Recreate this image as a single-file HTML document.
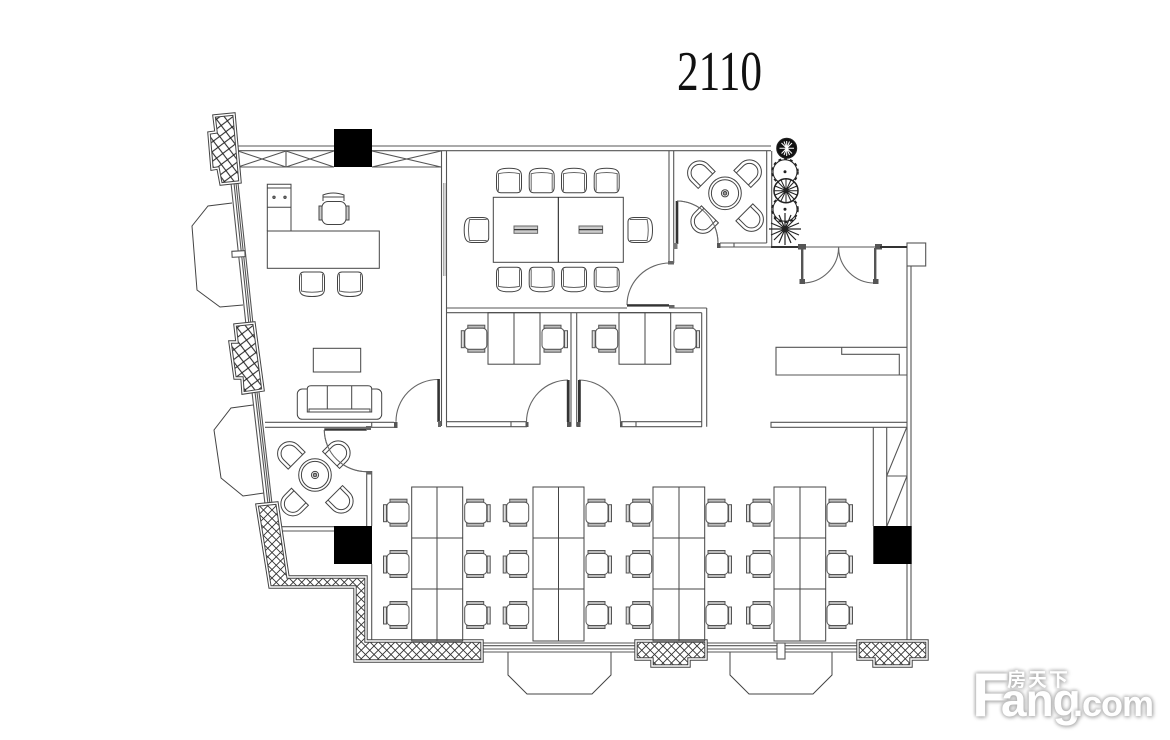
<!DOCTYPE html>
<html>
<head>
<meta charset="utf-8">
<style>
html,body{margin:0;padding:0;background:#fff;width:1170px;height:740px;overflow:hidden}
#c{position:relative;width:1170px;height:740px}
svg{position:absolute;left:0;top:0;filter:blur(0.35px)}
.wm{position:absolute;color:#fff;font-family:"Liberation Sans","Noto Sans CJK SC",sans-serif;font-weight:bold;text-shadow:1px 1px 4px #aaa,0 0 4px #bbb,-1px -1px 3px #ccc;white-space:nowrap;line-height:1}
</style>
</head>
<body>
<div id="c">
<svg width="1170" height="740" viewBox="0 0 1170 740" xmlns="http://www.w3.org/2000/svg">
<defs>
<pattern id="h" width="11" height="11" patternUnits="userSpaceOnUse" patternTransform="rotate(8)">
<path d="M0 0L11 11M11 0L0 11" stroke="#222" stroke-width="1"/>
</pattern>
<pattern id="h2" width="8.5" height="8.5" patternUnits="userSpaceOnUse">
<path d="M0 0L8.5 8.5M8.5 0L0 8.5" stroke="#333" stroke-width="0.9"/>
</pattern>
<g id="sc" fill="#fff" stroke="#555" stroke-width="1">
<rect x="-8" y="-13.5" width="17" height="3" fill="#bbb"/>
<rect x="-8" y="10.5" width="17" height="3" fill="#bbb"/>
<rect x="-14.5" y="-8" width="3" height="17" fill="#ddd"/>
<rect x="-11" y="-10.5" width="22" height="21" rx="4"/>
</g>
<g id="ac" fill="#fff" stroke="#444" stroke-width="1">
<path d="M-12.5-5C-12.5-11-8-12.5 0-12.5C8-12.5 12.5-11 12.5-5L12.5 6Q12.5 12 8 12L-8 12Q-12.5 12-12.5 6Z"/>
<path d="M-11-7Q0-9.5 11-7M-10.5-7V10M10.5-7V10" fill="none" stroke="#666"/>
</g>
<g id="qc" fill="#fff" stroke="#444" stroke-width="1">
<path d="M-12 7V-3A12 12 0 0 1 12-3V7Z"/>
<path d="M-8.5 7V-3A8.5 8.5 0 0 1 8.5-3V7" fill="none"/>
</g>
<g id="rt" fill="none" stroke="#444" stroke-width="1">
<circle r="16.3"/><circle r="13.6"/><circle r="3.6"/><circle r="1.8" fill="#999"/>
</g>
<polygon id="p1" points="214,116 234,114 240,182 221,184 218,168 212,169 209,133 216,132"/>
<polygon id="p2" points="235,325 254,323 263,390 243,393 242,378 235,378 230,342 237,342"/>
<polygon id="p3" points="257,505 277,503 288,577 366,577 366,641 482,641 482,661 355,661 355,587 270,587"/>
<polygon id="p4" points="636,641 706,641 706,659 689,659 689,666 652,666 652,659 636,659"/>
<polygon id="p5" points="858,641 927,641 927,659 911,659 911,666 874,666 874,659 858,659"/>
</defs>

<!-- title -->
<text x="677" y="90" font-family="'Liberation Serif',serif" font-size="56" fill="#111" textLength="85" lengthAdjust="spacingAndGlyphs">2110</text>

<!-- bay windows -->
<g fill="none" stroke="#444" stroke-width="1">
<path d="M232 203L208 206L192 226L197 290L220 307L243 305"/>
<path d="M253 405L231 408L214 430L221 478L243 496L264 493"/>
<path d="M508 652V675L527 694H592L611 675V652"/>
<path d="M730 652V675L749 694H813L832 675V652"/>
</g>

<!-- walls and lines -->
<g fill="none" stroke="#555" stroke-width="1.1">
<path d="M236 146H771M238 150.7H771"/>
<!-- truss -->
<path d="M238 167H334M372 167H441M286 151V167"/>
<path d="M238 151L286 167M238 167L286 151M286 151L334 167M286 167L334 151M372 151L441 167M372 167L441 151"/>
<!-- office/meeting wall -->
<path d="M441.5 151V426M446.5 151V426"/>
<path d="M443.5 183V276M445 183V276" stroke="#888" stroke-width="0.7"/>
<!-- slanted wall -->
<path d="M231 183L246 325M234 183L249 325M236 183L251 325M238 183L253 324"/>
<path d="M252 392L265 504M255 392L268 504M257 392L270 504M259 392L272 504"/>
<rect x="232" y="251" width="13" height="6" fill="#fff" transform="rotate(-3 238 254)"/>
<!-- patio -->
<path d="M669 151V263M673.7 151V263M766.7 151V243M771.7 151V247"/>
<path d="M720 243H766.7M720 247H798M734 243V247"/>
<!-- meeting bottom wall -->
<path d="M446 308H627M669 308H706.7M446 312.7H701.7M701.7 312.7V426.7M706.7 308V426.7"/>
<path d="M571 312.7V426.7M576.7 312.7V426.7"/>
<path d="M446 421.7H527M446 426.7H527M511 421.7V426.7M620 421.7H702M620 426.7H702M636 421.7V426.7"/>
<!-- left rooms wall -->
<path d="M265 422.3H394M265 427.3H394M371.7 422.3V427.3M366.7 471V526M371.7 471V526M371.7 564V643"/>
<path d="M282 526.7H334M282 531H334"/>
<!-- entry / right wall -->
<path d="M802 247H875"/>
<rect x="907" y="243" width="18.7" height="23"/>
<path d="M907 266V641M911 266V526M911 564V641"/>
<!-- reception -->
<path d="M906.7 347.3H776V375H906.7M841.7 347.3V354.3H899.3V375"/>
<path d="M906.7 422.3H771V427.3H906.7"/>
<path d="M873.3 427V526M886.7 427V526M886.7 476H906.7M906.7 427.3L886.7 476M906.7 476.7L886.7 526.7"/>
<!-- bottom wall -->
<path d="M482 643H636M482 645.7H636M482 649H636M482 652H636M706 643H858M706 645.7H858M706 649H858M706 652H858"/>
<rect x="777" y="643" width="8" height="16" fill="#fff"/>
<!-- door arcs -->
<path stroke="#666" d="M677 201A41 42 0 0 1 718 243M670 263A43 42 0 0 0 627 305M396 421.7A42 42 0 0 1 438 379.5M324.3 430A42.4 42 0 0 0 366.7 471.7M526.5 421.7A42 42 0 0 1 568 380M579 380A42 42 0 0 1 620.5 423M802 283A36 36 0 0 0 838.6 247M875 283A36 36 0 0 1 838.6 247"/>
</g>

<!-- door leaves -->
<g fill="#333" stroke="none">
<rect x="675.7" y="201" width="2.6" height="43"/><rect x="673.5" y="243" width="4" height="6" fill="#777"/>
<rect x="668" y="261" width="6" height="3.5" fill="#666"/>
<rect x="627" y="304.2" width="42" height="2.4"/><rect x="669" y="305" width="5.5" height="3.4" fill="#666"/>
<rect x="437.3" y="379" width="2.6" height="43"/><rect x="438" y="421" width="3" height="6" fill="#666"/>
<rect x="324.3" y="428.3" width="42.4" height="2.4"/><rect x="366" y="426" width="5" height="4" fill="#666"/>
<rect x="394" y="422" width="3.5" height="6" fill="#555"/>
<rect x="366.5" y="471" width="5.2" height="3.5" fill="#666"/>
<rect x="566.8" y="380" width="2.8" height="42"/><rect x="567" y="422" width="3.5" height="5" fill="#555"/>
<rect x="578" y="380" width="2.8" height="42"/><rect x="577" y="422" width="3.5" height="5" fill="#555"/>
<rect x="525.5" y="422" width="3" height="5" fill="#555"/><rect x="620" y="422" width="2.5" height="5" fill="#555"/>
<rect x="717" y="243" width="3.5" height="5" fill="#555"/>
<rect x="801" y="248" width="2.4" height="34" fill="#555"/><rect x="874" y="248" width="2.4" height="34" fill="#555"/>
<rect x="798" y="244" width="8" height="5.5" fill="#555"/><rect x="875" y="244" width="7" height="5.5" fill="#555"/>
<rect x="799.5" y="279" width="5.5" height="5" fill="#555"/><rect x="873" y="279" width="5.5" height="5" fill="#555"/>
<rect x="880" y="246" width="27" height="2" fill="#333"/>
<rect x="771" y="246" width="27" height="2" fill="#333"/>
</g>

<!-- piers -->
<g fill="none" stroke="none">
<use href="#p1" fill="url(#h)"/><use href="#p1" stroke="#444" stroke-width="3.4"/><use href="#p1" stroke="#fff" stroke-width="1.4"/>
<use href="#p2" fill="url(#h)"/><use href="#p2" stroke="#444" stroke-width="3.4"/><use href="#p2" stroke="#fff" stroke-width="1.4"/>
<use href="#p3" fill="url(#h2)"/><use href="#p3" stroke="#444" stroke-width="3.4"/><use href="#p3" stroke="#fff" stroke-width="1.4"/>
<use href="#p4" fill="url(#h2)"/><use href="#p4" stroke="#444" stroke-width="3.4"/><use href="#p4" stroke="#fff" stroke-width="1.4"/>
<use href="#p5" fill="url(#h2)"/><use href="#p5" stroke="#444" stroke-width="3.4"/><use href="#p5" stroke="#fff" stroke-width="1.4"/>
</g>

<!-- columns -->
<g fill="#000">
<rect x="334" y="129" width="38" height="38"/>
<rect x="334" y="526" width="38" height="38"/>
<rect x="873.3" y="526" width="38.4" height="38"/>
</g>

<!-- boss desk -->
<g fill="none" stroke="#444" stroke-width="1">
<rect x="267.3" y="231" width="112" height="37.3"/>
<path d="M267.3 231V184.3H291V231M267.3 188H291M267.3 207.3H291"/>
<circle cx="274" cy="197.3" r="1.2" fill="#888"/><circle cx="285" cy="197.3" r="1.2" fill="#888"/>
<!-- boss chair -->
<rect x="319" y="206" width="3" height="14" fill="#ccc"/><rect x="346" y="206" width="3" height="14" fill="#ccc"/>
<path d="M323 201V195Q333 191 344 195V201"/>
<path d="M323 197H344"/>
<rect x="322" y="201.5" width="24" height="23" rx="6" fill="#fff"/>
<!-- coffee table -->
<rect x="313.3" y="348.3" width="47.4" height="23.7"/>
<!-- sofa -->
<rect x="297.3" y="389" width="84.4" height="30.3" rx="5"/>
<path d="M307.3 412V389Q307.3 385.7 311 385.7H368Q371.7 385.7 371.7 389V412H307.3Z" fill="#fff"/>
<path d="M327.3 386V409M351.7 386V409M309 412V409H370V412"/>
<!-- meeting table -->
<rect x="493.3" y="197.3" width="130" height="65"/>
<path d="M558.3 197.3V262.3" stroke="#111"/>
<rect x="514" y="226" width="23.6" height="7.3" fill="#ccc" stroke="#666"/><rect x="579" y="226" width="23.6" height="7.3" fill="#ccc" stroke="#666"/>
<path d="M514 229.6H537.6M579 229.6H602.6" stroke="#333" stroke-width="1.3"/>
<!-- office desks -->
<rect x="488" y="312.7" width="52" height="51.5"/><path d="M514 312.7V364.2"/>
<rect x="619" y="312.7" width="51.7" height="51.5"/><path d="M645 312.7V364.2"/>
<!-- workstations -->
<path d="M411.7 487H462.7V641H411.7ZM437 487V641M411.7 538H462.7M411.7 589H462.7"/>
<path d="M533 487H584V641H533ZM558.5 487V641M533 538H584M533 589H584"/>
<path d="M653 487H704.7V641H653ZM679 487V641M653 538H704.7M653 589H704.7"/>
<path d="M774 487H825.7V641H774ZM800 487V641M774 538H825.7M774 589H825.7"/>
</g>

<!-- armchairs -->
<use href="#ac" x="509" y="180.7"/><use href="#ac" x="541.7" y="180.7"/><use href="#ac" x="574" y="180.7"/><use href="#ac" x="606.7" y="180.7"/>
<use href="#ac" transform="translate(509 279.3) rotate(180)"/><use href="#ac" transform="translate(541.7 279.3) rotate(180)"/><use href="#ac" transform="translate(574 279.3) rotate(180)"/><use href="#ac" transform="translate(606.7 279.3) rotate(180)"/>
<use href="#ac" transform="translate(476.7 230) rotate(-90)"/>
<use href="#ac" transform="translate(640 230) rotate(90)"/>
<use href="#ac" transform="translate(312 284) rotate(180)"/>
<use href="#ac" transform="translate(350 284) rotate(180)"/>

<!-- office chairs -->
<use href="#sc" x="475.8" y="338.7"/>
<use href="#sc" transform="translate(553 338.7) scale(-1 1)"/>
<use href="#sc" x="606.7" y="338.7"/>
<use href="#sc" transform="translate(685 338.7) scale(-1 1)"/>

<!-- workstation chairs -->
<use href="#sc" x="398" y="512.7"/><use href="#sc" x="398" y="564"/><use href="#sc" x="398" y="615"/>
<use href="#sc" transform="translate(475.7 512.7) scale(-1 1)"/><use href="#sc" transform="translate(475.7 564) scale(-1 1)"/><use href="#sc" transform="translate(475.7 615) scale(-1 1)"/>
<use href="#sc" x="517.7" y="512.7"/><use href="#sc" x="517.7" y="564"/><use href="#sc" x="517.7" y="615"/>
<use href="#sc" transform="translate(597 512.7) scale(-1 1)"/><use href="#sc" transform="translate(597 564) scale(-1 1)"/><use href="#sc" transform="translate(597 615) scale(-1 1)"/>
<use href="#sc" x="640.7" y="512.7"/><use href="#sc" x="640.7" y="564"/><use href="#sc" x="640.7" y="615"/>
<use href="#sc" transform="translate(717 512.7) scale(-1 1)"/><use href="#sc" transform="translate(717 564) scale(-1 1)"/><use href="#sc" transform="translate(717 615) scale(-1 1)"/>
<use href="#sc" x="761" y="512.7"/><use href="#sc" x="761" y="564"/><use href="#sc" x="761" y="615"/>
<use href="#sc" transform="translate(838 512.7) scale(-1 1)"/><use href="#sc" transform="translate(838 564) scale(-1 1)"/><use href="#sc" transform="translate(838 615) scale(-1 1)"/>

<!-- round tables -->
<use href="#rt" x="725" y="193.3"/>
<use href="#qc" transform="translate(701.7 175) rotate(-45)"/>
<use href="#qc" transform="translate(747.3 174) rotate(45)"/>
<use href="#qc" transform="translate(705 219.3) rotate(-135)"/>
<use href="#qc" transform="translate(749.3 217.3) rotate(135)"/>
<use href="#rt" x="315" y="475"/>
<use href="#qc" transform="translate(291.7 455.7) rotate(-45)"/>
<use href="#qc" transform="translate(336 455) rotate(45)"/>
<use href="#qc" transform="translate(295 501.7) rotate(-135)"/>
<use href="#qc" transform="translate(339 499) rotate(135)"/>

<!-- door arcs over chairs -->
<path d="M677 201A41 42 0 0 1 718 243M324.3 430A42.4 42 0 0 0 366.7 471.7" fill="none" stroke="#666" stroke-width="1"/>

<!-- plants -->
<g fill="none" stroke="#222" stroke-width="1">
<circle cx="786.7" cy="148.3" r="10" fill="#111"/>
<path stroke="#fff" d="M786.7 141V156M779.5 148.3H794M781.5 143L792 153.5M792 143L781.5 153.5M784 141.5L789.5 155M789.5 141.5L784 155"/>
<circle cx="785" cy="171.7" r="12" fill="#fff"/>
<circle cx="785" cy="171.7" r="13" stroke-width="1.5" stroke-dasharray="3 3"/>
<circle cx="785" cy="171.7" r="1" fill="#222"/>
<circle cx="785" cy="209.3" r="12" fill="#fff"/>
<circle cx="785" cy="209.3" r="13" stroke-width="1.5" stroke-dasharray="3 3"/>
<circle cx="785" cy="209.3" r="1" fill="#222"/>
<circle cx="786" cy="190.7" r="12" fill="#fff" stroke-width="1.5"/>
<path d="M786 179V202M774 190.7H798M778 182L794 199M794 182L778 199M781 180L791 201M791 180L781 201M775 186L797 195M797 186L775 195"/>
<path stroke-width="1.2" d="M785 229L785 213M785 229L785 245M785 229L769 229M785 229L801 229M785 229L774 218M785 229L796 218M785 229L774 240M785 229L796 240M785 229L779 215M785 229L791 215M785 229L779 243M785 229L791 243M785 229L771 223M785 229L799 223M785 229L771 235M785 229L799 235"/>
</g>
</svg>

<!-- watermark -->
<div class="wm" style="left:972px;top:665px;font-size:62px">F</div>
<div class="wm" style="left:1001px;top:677px;font-size:46px;letter-spacing:-1px">ang</div>
<div class="wm" style="left:1073px;top:686px;font-size:36px;letter-spacing:-1px">.com</div>
<div class="wm" style="left:1007px;top:671px;font-size:19px;letter-spacing:2px">房天下</div>
</div>
</body>
</html>
